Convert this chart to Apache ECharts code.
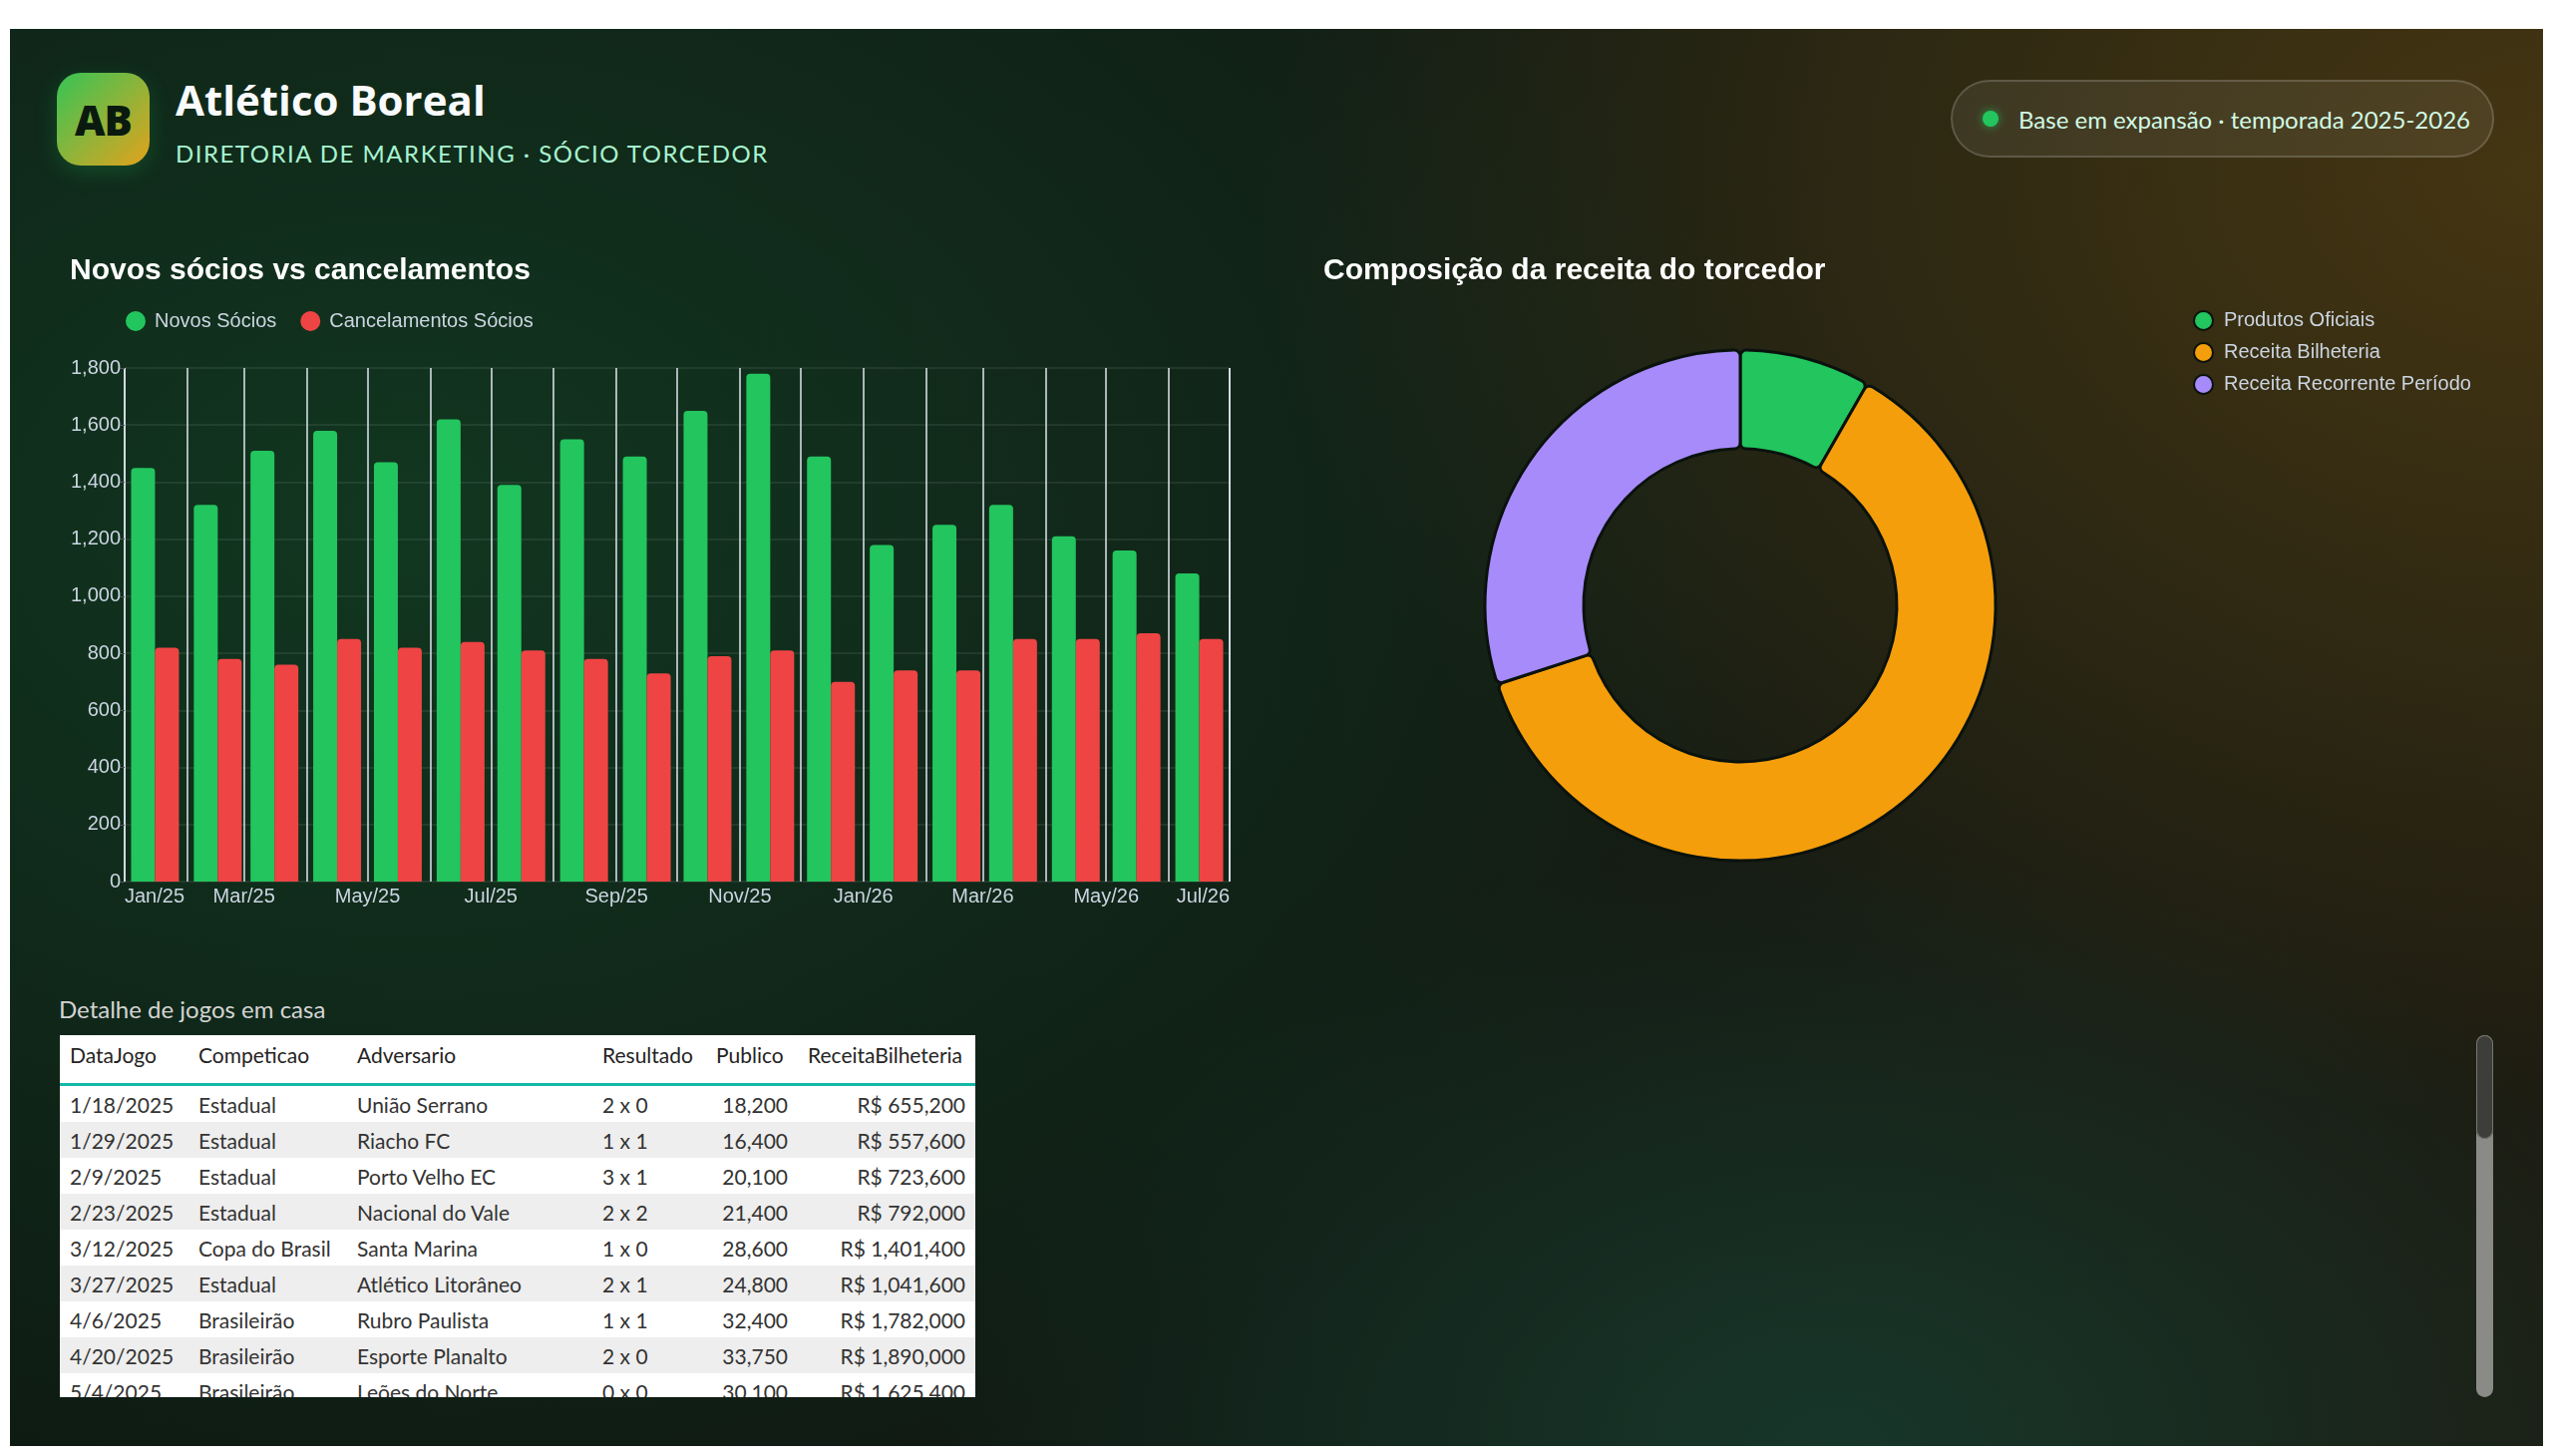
<!DOCTYPE html>
<html lang="pt-BR">
<head>
<meta charset="utf-8">
<title>Atlético Boreal · Sócio Torcedor</title>
<script src="https://cdn.jsdelivr.net/npm/echarts@6/dist/echarts.min.js"></script>
<style>
  html, body { margin: 0; padding: 0; background: #ffffff; width: 2560px; height: 1460px; overflow: hidden; }
  .painel {
    position: absolute; left: 10px; top: 29px; width: 2540px; height: 1421px; overflow: hidden;
    font-family: Lato, 'Open Sans', sans-serif;
    background:
      radial-gradient(ellipse 1400px 1000px at 15% 35%, rgba(18, 64, 36, 0.75), rgba(18, 64, 36, 0) 100%),
      radial-gradient(ellipse 1300px 950px at 100% 10%, rgba(72, 56, 18, 0.92), rgba(72, 56, 18, 0) 100%),
      radial-gradient(ellipse 900px 600px at 72% 100%, rgba(24, 66, 52, 0.7), rgba(24, 66, 52, 0) 100%),
      linear-gradient(90deg, #0e1a13 0%, #111b14 50%, #1d1c12 100%);
  }
  .logo {
    position: absolute; left: 47px; top: 44px; width: 93px; height: 93px; border-radius: 24px;
    background: linear-gradient(135deg, #35c455 0%, #8db43a 50%, #e3a21c 100%);
    box-shadow: 0 6px 22px rgba(34, 197, 94, 0.22);
    display: flex; align-items: center; justify-content: center;
    font-family: 'Open Sans', sans-serif; font-weight: 800; font-size: 42px; color: #0a1a0f; letter-spacing: -1px;
  }
  .titulo { position: absolute; left: 166px; top: 49px; font-family: 'Open Sans', sans-serif; font-size: 42px; line-height: 44px; font-weight: 700; color: #f8fafc; }
  .subtitulo { position: absolute; left: 166px; top: 113px; font-size: 24px; line-height: 24px; letter-spacing: 1.5px; color: #a7f3d0; }
  .selo {
    position: absolute; left: 1946px; top: 51px; width: 545px; height: 78px; box-sizing: border-box;
    border-radius: 39px; border: 2px solid rgba(255, 255, 255, 0.16); background: rgba(255, 255, 255, 0.07);
    display: flex; align-items: center; padding-left: 30px; color: #d1fae5; font-size: 24px;
  }
  .selo .ponto { width: 16px; height: 16px; border-radius: 50%; background: #22c55e; box-shadow: 0 0 10px rgba(34, 197, 94, 0.7); margin-right: 20px; }
  #barChart { position: absolute; left: 30px; top: 201px; width: 1230px; height: 700px; }
  #pieChart { position: absolute; left: 1280px; top: 201px; width: 1240px; height: 700px; }
  .rotulo-tabela { position: absolute; left: 49px; top: 970px; font-size: 24px; line-height: 26px; color: #d4d4d4; }
  .tabela-box { position: absolute; left: 50px; top: 1009px; width: 918px; height: 363px; overflow: hidden; background: #ffffff; }
  table { border-collapse: collapse; width: 918px; table-layout: fixed; font-size: 21px; color: #333333; }
  th { font-weight: 400; text-align: left; color: #252423; padding: 7px 0 0 10px; height: 41px; vertical-align: top; border-bottom: 3px solid #14b8a6; }
  td { height: 36px; padding: 0 0 0 10px; white-space: nowrap; }
  td.num { text-align: right; padding: 0 10px 0 0; }
  tbody tr:nth-child(even) td { background: #eeeeee; }
  .rolagem { position: absolute; left: 2473px; top: 1009px; width: 17px; height: 363px; border-radius: 9px; background: #8a8a86; }
  .rolagem .cursor { position: absolute; left: 0; top: 0; width: 17px; height: 104px; border-radius: 9px; background: #3d3d3a; box-shadow: inset 0 0 0 1px #77766f; }
</style>
</head>
<body>
<div class="painel">
  <div class="logo">AB</div>
  <div class="titulo">Atlético Boreal</div>
  <div class="subtitulo">DIRETORIA DE MARKETING · SÓCIO TORCEDOR</div>
  <div class="selo"><span class="ponto"></span>Base em expansão · temporada 2025-2026</div>

  <div id="barChart"></div>
  <div id="pieChart"></div>

  <div class="rotulo-tabela">Detalhe de jogos em casa</div>
  <div class="tabela-box">
    <table>
      <colgroup>
        <col style="width:129px"><col style="width:159px"><col style="width:246px">
        <col style="width:114px"><col style="width:92px"><col style="width:178px">
      </colgroup>
      <thead><tr id="cabecalho"></tr></thead>
      <tbody id="corpo"></tbody>
    </table>
  </div>
  <div class="rolagem"><div class="cursor"></div></div>
</div>

<script>
  // período do eixo e meses (meio do mês) do gráfico de barras
  const inicioEixo = '2025-01-01'
  const fimEixo = '2026-07-01'
  const meses = [
    '2025-01-16', '2025-02-16', '2025-03-16', '2025-04-16', '2025-05-16', '2025-06-16',
    '2025-07-16', '2025-08-16', '2025-09-16', '2025-10-16', '2025-11-16', '2025-12-16',
    '2026-01-16', '2026-02-16', '2026-03-16', '2026-04-16', '2026-05-16', '2026-06-16'
  ]
  const novosSocios = [1450, 1320, 1510, 1580, 1470, 1620, 1390, 1550, 1490, 1650, 1780, 1490, 1180, 1250, 1320, 1210, 1160, 1080]
  const cancelamentos = [820, 780, 760, 850, 820, 840, 810, 780, 730, 790, 810, 700, 740, 740, 850, 850, 870, 850]
  const nomesMes = ['Jan', 'Feb', 'Mar', 'Apr', 'May', 'Jun', 'Jul', 'Aug', 'Sep', 'Oct', 'Nov', 'Dec']

  // composição da receita
  const categoriasReceita = ['Produtos Oficiais', 'Receita Bilheteria', 'Receita Recorrente Período']
  const valoresReceita = [2150000, 16000000, 7780000]

  // tabela de jogos em casa
  const colunas = ['DataJogo', 'Competicao', 'Adversario', 'Resultado', 'Publico', 'ReceitaBilheteria']
  const datasJogo = ['1/18/2025', '1/29/2025', '2/9/2025', '2/23/2025', '3/12/2025', '3/27/2025', '4/6/2025', '4/20/2025', '5/4/2025']
  const competicoes = ['Estadual', 'Estadual', 'Estadual', 'Estadual', 'Copa do Brasil', 'Estadual', 'Brasileirão', 'Brasileirão', 'Brasileirão']
  const adversarios = ['União Serrano', 'Riacho FC', 'Porto Velho EC', 'Nacional do Vale', 'Santa Marina', 'Atlético Litorâneo', 'Rubro Paulista', 'Esporte Planalto', 'Leões do Norte']
  const resultados = ['2 x 0', '1 x 1', '3 x 1', '2 x 2', '1 x 0', '2 x 1', '1 x 1', '2 x 0', '0 x 0']
  const publicos = [18200, 16400, 20100, 21400, 28600, 24800, 32400, 33750, 30100]
  const receitasBilheteria = [655200, 557600, 723600, 792000, 1401400, 1041600, 1782000, 1890000, 1625400]

  const fonteGrafico = "'Liberation Sans', Arial, sans-serif"
  const corTexto = '#cbd5e1'
  const toTs = (d) => new Date(d + 'T00:00:00').getTime()

  // barras: novos sócios vs cancelamentos
  // as barras ficam num eixo numérico oculto (timestamps) para o eixo de tempo não ser alargado
  const initBarChart = () => {
    const myChart = echarts.init(document.getElementById('barChart'))
    const option = {
      textStyle: { fontFamily: fonteGrafico, color: corTexto },
      title: {
        text: 'Novos sócios vs cancelamentos',
        left: 25,
        top: 22,
        textStyle: { color: '#ffffff', fontSize: 30, fontWeight: 'bold', fontFamily: fonteGrafico }
      },
      tooltip: { trigger: 'item' },
      legend: {
        left: 81,
        top: 77,
        icon: 'circle',
        itemWidth: 20,
        itemHeight: 20,
        itemGap: 24,
        textStyle: { color: corTexto, fontSize: 20, fontFamily: fonteGrafico, padding: [0, 0, 0, 4] }
      },
      grid: { left: 85, top: 139, right: 37, bottom: 46, containLabel: false, outerBoundsMode: 'none' },
      xAxis: [
        {
          type: 'time',
          min: toTs(inicioEixo),
          max: toTs(fimEixo),
          splitNumber: 18,
          axisLine: { show: false },
          axisTick: { show: false },
          splitLine: { show: true, lineStyle: { color: '#E0E6F1', width: 1.5 } },
          axisLabel: {
            color: corTexto,
            fontSize: 20,
            margin: 5,
            showMinLabel: true,
            showMaxLabel: true,
            alignMinLabel: 'left',
            alignMaxLabel: 'right',
            formatter: (value) => {
              const d = new Date(value)
              if (d.getMonth() % 2 !== 0) return ''
              return nomesMes[d.getMonth()] + '/' + String(d.getFullYear()).slice(2)
            }
          }
        },
        {
          type: 'value',
          min: toTs(inicioEixo),
          max: toTs(fimEixo),
          show: false,
          axisLabel: { show: false },
          splitLine: { show: false }
        }
      ],
      yAxis: {
        type: 'value',
        min: 0,
        max: 1800,
        interval: 200,
        axisLine: { show: false },
        axisLabel: { color: corTexto, fontSize: 20, margin: 4, formatter: (v) => v.toLocaleString('en-US') },
        splitLine: { lineStyle: { color: 'rgba(255,255,255,0.1)', width: 1.5 } }
      },
      series: [
        {
          name: 'Novos Sócios',
          type: 'bar',
          xAxisIndex: 1,
          barWidth: 24,
          barGap: '0%',
          itemStyle: { color: '#22c55e', borderRadius: [4, 4, 0, 0] },
          data: meses.map((m, i) => [toTs(m), novosSocios[i]])
        },
        {
          name: 'Cancelamentos Sócios',
          type: 'bar',
          xAxisIndex: 1,
          barWidth: 24,
          barGap: '0%',
          itemStyle: { color: '#ef4444', borderRadius: [4, 4, 0, 0] },
          data: meses.map((m, i) => [toTs(m), cancelamentos[i]])
        }
      ]
    }
    option && myChart.setOption(option)
  }

  // rosca: composição da receita do torcedor
  const initPieChart = () => {
    const myChart = echarts.init(document.getElementById('pieChart'))
    const option = {
      color: ['#22c55e', '#f59e0b', '#a78bfa'],
      textStyle: { fontFamily: fonteGrafico, color: corTexto },
      title: {
        text: 'Composição da receita do torcedor',
        left: 32,
        top: 22,
        textStyle: { color: '#ffffff', fontSize: 30, fontWeight: 'bold', fontFamily: fonteGrafico }
      },
      tooltip: { trigger: 'item' },
      legend: {
        orient: 'vertical',
        left: 904,
        top: 76,
        icon: 'circle',
        itemWidth: 19,
        itemHeight: 19,
        itemGap: 11,
        textStyle: { color: corTexto, fontSize: 20, fontFamily: fonteGrafico, padding: [0, 0, 0, 6] }
      },
      series: [
        {
          name: 'Receita',
          type: 'pie',
          radius: [157, 256],
          center: [455, 377],
          startAngle: 90,
          label: { show: false },
          labelLine: { show: false },
          itemStyle: { borderColor: '#0a120d', borderWidth: 3, borderRadius: 6 },
          data: categoriasReceita.map((nome, i) => ({ name: nome, value: valoresReceita[i] }))
        }
      ]
    }
    option && myChart.setOption(option)
  }

  // tabela
  const initTabela = () => {
    const fmt = (n) => n.toLocaleString('en-US')
    document.getElementById('cabecalho').innerHTML = colunas.map((c) => '<th>' + c + '</th>').join('')
    document.getElementById('corpo').innerHTML = datasJogo.map((d, i) =>
      '<tr><td>' + d + '</td><td>' + competicoes[i] + '</td><td>' + adversarios[i] + '</td><td>' + resultados[i] +
      '</td><td class="num">' + fmt(publicos[i]) + '</td><td class="num">R$ ' + fmt(receitasBilheteria[i]) + '</td></tr>'
    ).join('')
  }

  initBarChart()
  initPieChart()
  initTabela()
</script>
</body>
</html>
